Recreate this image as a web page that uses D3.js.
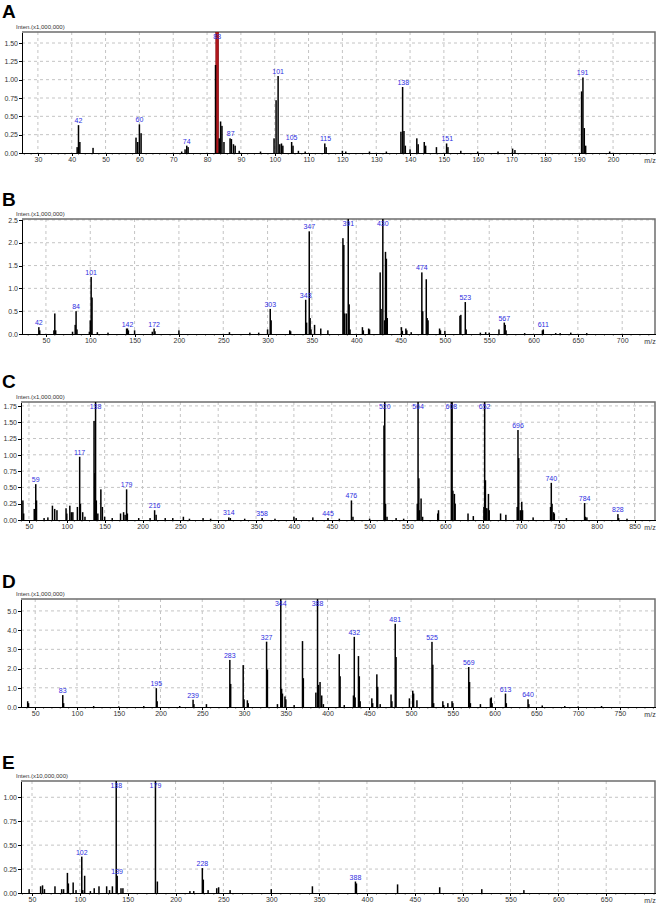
<!DOCTYPE html>
<meta charset="utf-8">
<style>
  body { margin: 0; background: #fff; }
  svg text { font-family: "Liberation Sans", Arial, sans-serif; }
  .axis path, .axis line { stroke: #000; shape-rendering: crispEdges; }
  .axis text { font-size: 7px; fill: #333; }
</style>
<script src="https://d3js.org/d3.v7.min.js"></script>
<div id="chart"></div>
<script>

// panel letters and intensity multipliers
var letters = ["A", "B", "C", "D", "E"];
var scaleNotes = ["Inten.(x1,000,000)", "Inten.(x1,000,000)", "Inten.(x1,000,000)",
                  "Inten.(x1,000,000)", "Inten.(x10,000,000)"];

// peaks: [m/z, intensity]
var peaksA = [[41.6,0.08],[42,0.38],[42.4,0.15],[46.3,0.07],[59,0.21],[59.5,0.15],[60,0.39],[60.5,0.27],
  [72.5,0.02],[73.5,0.05],[74,0.1],[74.4,0.08],[82.5,1.2],[83.6,0.2],[84,0.43],[84.4,0.37],[85,0.15],
  [86.8,0.2],[87.2,0.19],[87.8,0.12],[88.3,0.1],[89.5,0.03],[95.8,0.02],[99.8,0.2],[100.4,0.72],[101,1.05],
  [101.5,0.12],[102,0.13],[102.4,0.1],[105,0.15],[105.4,0.1],[107,0.03],[109,0.02],[114.8,0.13],[115.2,0.08],
  [120,0.03],[121,0.02],[128,0.02],[133,0.02],[137.3,0.29],[137.8,0.9],[138.2,0.3],[138.6,0.1],[140,0.05],
  [142,0.2],[142.4,0.12],[144.2,0.15],[144.6,0.1],[147.8,0.08],[150.8,0.13],[151.2,0.08],[155,0.03],
  [160,0.02],[166,0.02],[170.3,0.06],[171,0.04],[190.7,0.84],[191.1,1.03],[191.5,0.34],[191.9,0.1],[199,0.02]];
var peaksB = [[42,0.15],[43,0.08],[59,0.08],[60,0.45],[61,0.08],[80,0.05],[83,0.2],[84,0.5],[85,0.1],
  [99,0.05],[100,0.3],[101,1.25],[102,0.8],[108,0.04],[120,0.03],[141,0.12],[142,0.12],[143,0.08],[150,0.08],
  [170,0.05],[172,0.12],[173,0.06],[200,0.08],[257,0.04],[280,0.03],[290,0.03],[300,0.1],[303,0.55],[304,0.3],
  [325,0.08],[326,0.06],[343,0.75],[344,0.25],[347,2.25],[348,0.35],[349,0.1],[353,0.2],[360,0.12],[368,0.08],
  [385,2.1],[386,1.95],[387,0.45],[389,0.45],[391,2.6],[392,0.65],[393,0.1],[407,0.15],[408,0.08],[414,0.12],
  [415,0.1],[427,1.35],[428,0.55],[430,2.6],[432,0.3],[433,1.8],[434,1.65],[435,0.35],[451,0.15],[452,0.07],
  [456,0.12],[457,0.08],[462,0.04],[474,1.35],[475,0.5],[479,1.2],[480,0.35],[481,0.3],[494,0.12],[495,0.08],
  [500,0.07],[517,0.4],[518,0.42],[523,0.7],[524,0.1],[540,0.03],[546,0.04],[550,0.03],[561,0.1],[567,0.25],
  [568,0.2],[569,0.08],[590,0.02],[610,0.08],[611,0.1],[625,0.02],[630,0.02],[642,0.03],[660,0.02]];
var peaksC = [[42,0.3],[43,0.1],[57,0.17],[59,0.55],[60,0.3],[70,0.03],[75,0.04],[81,0.22],[84,0.17],
  [87,0.15],[99,0.18],[100,0.1],[104,0.22],[106,0.12],[108,0.12],[114,0.2],[117,0.97],[118,0.25],[121,0.12],
  [124,0.05],[136,1.52],[137,0.72],[138,1.9],[139,0.3],[141,0.1],[145,0.47],[147,0.2],[150,0.05],[160,0.03],
  [171,0.1],[175,0.12],[177,0.08],[179,0.47],[180,0.1],[195,0.03],[210,0.03],[216,0.15],[218,0.08],[230,0.03],
  [240,0.03],[254,0.05],[262,0.02],[280,0.03],[290,0.02],[314,0.04],[316,0.03],[335,0.02],[358,0.03],
  [375,0.02],[400,0.05],[403,0.03],[425,0.04],[445,0.03],[460,0.02],[476,0.3],[478,0.05],[500,0.02],
  [519,1.45],[520,1.9],[521,0.25],[523,0.05],[535,0.03],[545,0.02],[563,0.25],[564,1.9],[565,0.64],
  [566,0.15],[568,0.33],[570,0.05],[590,0.1],[591,0.15],[608,1.9],[609,1.9],[610,0.45],[612,0.4],[613,0.25],
  [630,0.1],[637,0.06],[651,0.2],[652,1.9],[653,0.61],[654,0.18],[655,0.18],[657,0.4],[658,0.15],[673,0.1],
  [680,0.08],[695,0.2],[696,1.38],[697,0.95],[699,0.15],[701,0.28],[702,0.15],[716,0.04],[739,0.2],
  [740,0.57],[741,0.25],[743,0.12],[744,0.1],[760,0.03],[784,0.26],[785,0.05],[787,0.04],[828,0.09],
  [829,0.03],[840,0.02]];
var peaksD = [[41,0.3],[42,0.2],[83,0.62],[84,0.2],[120,0.05],[150,0.03],[180,0.05],[195,0.98],[196,0.3],
  [223,0.05],[239,0.38],[240,0.15],[255,0.15],[283,2.45],[284,1.2],[299,2.18],[300,0.4],[304,0.35],[305,0.2],
  [327,3.4],[328,1.95],[340,0.15],[344,5.8],[345,0.95],[346,0.7],[349,0.55],[350,0.4],[360,0.1],[370,3.43],
  [371,1.5],[386,0.75],[388,5.8],[389,1.15],[391,1.3],[393,0.6],[395,0.15],[414,2.75],[415,1.6],[420,0.1],
  [431,0.6],[432,3.65],[433,0.5],[437,2.65],[438,1.6],[439,0.3],[453,0.45],[454,0.2],[459,1.7],[460,1.05],
  [463,0.15],[476,0.65],[477,0.3],[481,4.33],[482,2.6],[498,0.45],[502,0.85],[503,0.7],[507,0.35],[525,3.39],
  [526,2.2],[527,0.2],[538,0.3],[539,0.1],[544,0.2],[549,0.3],[550,0.2],[569,2.08],[570,1.3],[571,0.2],
  [583,0.15],[595,0.45],[596,0.5],[597,0.2],[613,0.7],[614,0.2],[640,0.4],[641,0.15],[657,0.08],[684,0.05],
  [700,0.03],[728,0.05]];
var peaksE = [[47,0.04],[59,0.07],[61,0.08],[63,0.04],[74,0.07],[81,0.04],[83,0.04],[87,0.21],[88,0.1],
  [93,0.11],[96,0.03],[102,0.38],[103,0.03],[105,0.18],[111,0.02],[115,0.05],[120,0.07],[128,0.07],
  [131,0.03],[134,0.07],[138,1.2],[139,0.18],[143,0.05],[145,0.05],[179,1.2],[181,0.12],[215,0.02],
  [219,0.02],[228,0.26],[229,0.14],[234,0.03],[243,0.05],[245,0.06],[257,0.03],[300,0.04],[343,0.07],
  [388,0.12],[389,0.1],[432,0.09],[476,0.06],[520,0.04],[564,0.03]];

// labelled m/z values (text = value)
var labelsA = [42, 60, 74, 83, 87, 101, 105, 115, 138, 151, 191];
var labelsB = [42, 84, 101, 142, 172, 303, 343, 347, 391, 430, 474, 523, 567, 611];
var labelsC = [59, 117, 138, 179, 216, 314, 358, 445, 476, 520, 564, 608, 652, 696, 740, 784, 828];
var labelsD = [83, 195, 239, 283, 327, 344, 388, 432, 481, 525, 569, 613, 640];
var labelsE = [102, 138, 139, 179, 228, 388];

// selected ion marker in A (red line)
var markerA = [83];

// tick labels
var xTicksA = [30,40,50,60,70,80,90,100,110,120,130,140,150,160,170,180,190,200];
var xTicksB = [50,100,150,200,250,300,350,400,450,500,550,600,650,700];
var xTicksC = [50,100,150,200,250,300,350,400,450,500,550,600,650,700,750,800,850];
var xTicksD = [50,100,150,200,250,300,350,400,450,500,550,600,650,700,750];
var xTicksE = [50,100,150,200,250,300,350,400,450,500,550,600,650];
var yTicksA = [0,0.25,0.5,0.75,1,1.25,1.5];
var yTicksB = [0,0.5,1,1.5,2,2.5];
var yTicksC = [0,0.25,0.5,0.75,1,1.25,1.5,1.75];
var yTicksD = [0,1,2,3,4,5];
var yTicksE = [0,0.25,0.5,0.75,1];

var panels = [
  {peaks: peaksA, labels: labelsA, markers: markerA, xTicks: xTicksA, yTicks: yTicksA},
  {peaks: peaksB, labels: labelsB, markers: [], xTicks: xTicksB, yTicks: yTicksB},
  {peaks: peaksC, labels: labelsC, markers: [], xTicks: xTicksC, yTicks: yTicksC},
  {peaks: peaksD, labels: labelsD, markers: [], xTicks: xTicksD, yTicks: yTicksD},
  {peaks: peaksE, labels: labelsE, markers: [], xTicks: xTicksE, yTicks: yTicksE}
];

// placement of each panel on the page
var layout = [
  {left: 22, right: 655, top: 32,  bottom: 153, xDom: [25.3, 212.4], yMax: 1.65, letterY: 18,  minor: 2,  fmt: ".2f"},
  {left: 22, right: 655, top: 219, bottom: 334, xDom: [23, 737],     yMax: 2.52, letterY: 206, minor: 10, fmt: ".1f"},
  {left: 21, right: 655, top: 402, bottom: 520, xDom: [39.5, 877],   yMax: 1.81, letterY: 388, minor: 10, fmt: ".2f"},
  {left: 21, right: 655, top: 599, bottom: 707, xDom: [33, 792],     yMax: 5.62, letterY: 588, minor: 10, fmt: ".1f"},
  {left: 21, right: 655, top: 781, bottom: 893, xDom: [38.5, 701],   yMax: 1.17, letterY: 769, minor: 10, fmt: ".2f"}
];

var svg = d3.select("#chart")
  .append("svg")
    .attr("width", 657)
    .attr("height", 903);

panels.forEach(function(p, i) {
  var L = layout[i];
  var x = d3.scaleLinear().domain(L.xDom).range([L.left, L.right]);
  var y = d3.scaleLinear().domain([0, L.yMax]).range([L.bottom, L.top]);
  var g = svg.append("g");

  // panel letter
  g.append("text")
    .attr("x", 2).attr("y", L.letterY)
    .attr("font-size", 19).attr("font-weight", "bold")
    .text(letters[i]);

  // intensity note
  g.append("text")
    .attr("x", 16).attr("y", L.top - 3)
    .attr("font-size", 6).attr("fill", "#333")
    .text(scaleNotes[i]);

  // dashed grid
  g.selectAll(null).data(p.xTicks).enter().append("line")
    .attr("x1", function(d) { return x(d); }).attr("x2", function(d) { return x(d); })
    .attr("y1", L.top).attr("y2", L.bottom)
    .attr("stroke", "#c4c4c4").attr("stroke-dasharray", "3,3");
  g.selectAll(null).data(p.yTicks.filter(function(d) { return d > 0; })).enter().append("line")
    .attr("x1", L.left).attr("x2", L.right)
    .attr("y1", function(d) { return y(d); }).attr("y2", function(d) { return y(d); })
    .attr("stroke", "#c4c4c4").attr("stroke-dasharray", "3,3");

  // frame top and right
  g.append("path")
    .attr("d", "M" + L.left + "," + L.top + "H" + L.right + "V" + L.bottom)
    .attr("fill", "none").attr("stroke", "#6e6e6e").attr("stroke-width", 1.5);

  // clip for peaks
  var clipId = "clip" + i;
  g.append("clipPath").attr("id", clipId)
    .append("rect")
      .attr("x", L.left).attr("y", L.top)
      .attr("width", L.right - L.left).attr("height", L.bottom - L.top);

  var plot = g.append("g").attr("clip-path", "url(#" + clipId + ")");

  // red selected-ion marker
  plot.selectAll(null).data(p.markers).enter().append("rect")
    .attr("x", function(d) { return x(d) - 1.6; })
    .attr("y", L.top).attr("width", 3.2).attr("height", L.bottom - L.top)
    .attr("fill", "#b0161c").attr("stroke", "#6a0a0a").attr("stroke-width", 0.4);

  // peaks
  plot.selectAll(null).data(p.peaks).enter().append("rect")
    .attr("x", function(d) { return x(d[0]) - 0.75; })
    .attr("y", function(d) { return y(d[1]); })
    .attr("width", 1.5)
    .attr("height", function(d) { return L.bottom - y(d[1]); })
    .attr("fill", "#000");

  // x axis
  var xAxis = d3.axisBottom(x).tickValues(p.xTicks).tickSize(2.5).tickSizeOuter(0)
    .tickPadding(1.5).tickFormat(d3.format("d"));
  g.append("g").attr("class", "axis")
    .attr("transform", "translate(0," + L.bottom + ")")
    .call(xAxis);

  // minor ticks
  var minor = d3.range(Math.ceil(L.xDom[0] / L.minor) * L.minor, L.xDom[1], L.minor)
    .filter(function(d) { return p.xTicks.indexOf(d) < 0; });
  g.selectAll(null).data(minor).enter().append("line")
    .attr("x1", function(d) { return x(d); }).attr("x2", function(d) { return x(d); })
    .attr("y1", L.bottom).attr("y2", L.bottom + 1.5)
    .attr("stroke", "#000").attr("stroke-width", 0.8);

  g.append("text")
    .attr("x", 650).attr("y", L.bottom + 10)
    .attr("text-anchor", "middle").attr("font-size", 7).attr("fill", "#333")
    .text("m/z");

  // y axis
  var yAxis = d3.axisLeft(y).tickValues(p.yTicks).tickSize(3).tickSizeOuter(0)
    .tickPadding(1).tickFormat(d3.format(L.fmt));
  g.append("g").attr("class", "axis")
    .attr("transform", "translate(" + L.left + ",0)")
    .call(yAxis);
  g.selectAll(".axis path").attr("stroke-width", 1.2);

  // peak labels: sit on the tallest peak within half a unit of the label
  var height = function(m) {
    if (p.markers.indexOf(m) >= 0) return L.yMax * 2;
    var near = p.peaks.filter(function(d) { return Math.abs(d[0] - m) <= 0.5; });
    return d3.max(near, function(d) { return d[1]; }) || 0;
  };
  g.selectAll(null).data(p.labels).enter().append("text")
    .attr("x", function(d) { return x(d); })
    .attr("y", function(d) { return Math.max(y(height(d)) - 2, L.top + 7); })
    .attr("text-anchor", "middle")
    .attr("font-size", 7)
    .attr("fill", "#2e2ee0")
    .text(function(d) { return d; });
});

</script>
